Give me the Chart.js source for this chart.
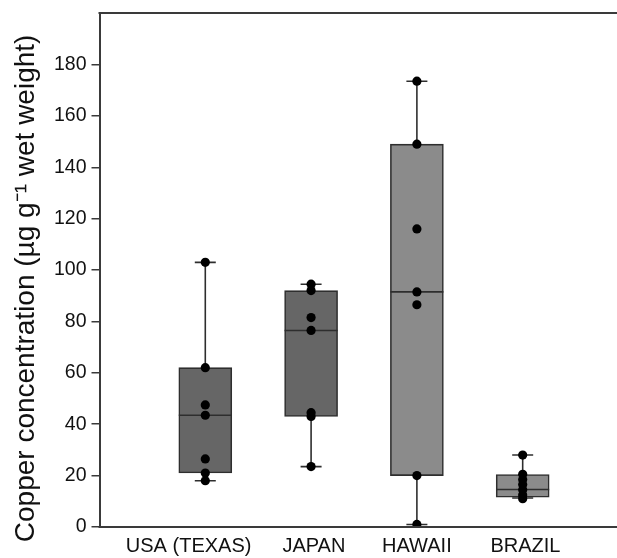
<!DOCTYPE html>
<html>
<head>
<meta charset="utf-8">
<script src="https://cdn.jsdelivr.net/npm/chart.js@4/dist/chart.umd.min.js"></script>
<style>
  html, body { margin: 0; padding: 0; background: #ffffff; overflow: hidden; width: 617px; height: 558px; }
  #wrap { position: relative; width: 646px; height: 573.5px; margin-top: -15.5px; }
</style>
</head>
<body>
<div id="wrap"><canvas id="c"></canvas></div>
<script>
// ---- data ----
const categories = ['USA (TEXAS)', 'JAPAN', 'HAWAII', 'BRAZIL'];
const categoryPositions = [1, 2, 3, 4];

const usaValues    = [103, 62, 47.5, 43.5, 26.5, 21, 18];
const japanValues  = [94.5, 92, 81.5, 76.5, 44.5, 43, 23.5];
const hawaiiValues = [173.5, 149, 116, 91.5, 86.5, 20, 1];
const brazilValues = [28, 20.5, 18.5, 16.5, 14.5, 12.5, 11];

const mins    = [18, 23.5, 1, 11.3];
const q1s     = [21, 43, 20, 11.6];
const medians = [43.5, 76.5, 91.5, 14.6];
const q3s     = [62, 92, 149, 20.4];
const maxs    = [103, 94.5, 173.5, 28];

const yTickValues = [0, 20, 40, 60, 80, 100, 120, 140, 160, 180];
const yTitle = 'Copper concentration (\u00B5g g\u207B\u00B9 wet weight)';

// ---- styling ----
const boxFills = ['#666666', '#666666', '#8b8b8b', '#8b8b8b'];
const ink = '#2e2e2e';
const FONT = '"Liberation Sans", Arial, Helvetica, sans-serif';

// ---- build datasets from the arrays ----
const allValues = [usaValues, japanValues, hawaiiValues, brazilValues];
const pointData = [];
allValues.forEach((vals, i) => vals.forEach(v => pointData.push({ x: categoryPositions[i], y: v })));

const boxData = categoryPositions.map((x, i) => ({ x: x, y: [q1s[i], q3s[i]] }));
const medianData = categoryPositions.map((x, i) => ({ x: x, y: medians[i] }));
const capData = [];
const whiskerData = [];
categoryPositions.forEach((x, i) => {
  capData.push({ x: x, y: mins[i] }, { x: x, y: maxs[i] });
  whiskerData.push({ x: x, y: mins[i] }, { x: x, y: maxs[i] }, { x: x, y: null });
});

// display labels (label centres are slightly off the box centres in the reference)
const displayLabels = ['USA (TEXAS)      ', ' JAPAN', 'HAWAII', ' BRAZIL'];

const frame = {
  id: 'frame',
  afterDraw(chart) {
    const a = chart.chartArea, ctx = chart.ctx;
    const yb = chart.scales.y.getPixelForValue(0);
    ctx.save();
    ctx.strokeStyle = '#3a3a3a';
    ctx.lineWidth = 2;
    ctx.beginPath();
    ctx.moveTo(a.left - 1, a.top);
    ctx.lineTo(chart.width, a.top);
    ctx.moveTo(a.left - 1, yb);
    ctx.lineTo(chart.width, yb);
    ctx.stroke();
    ctx.restore();
  }
};

new Chart(document.getElementById('c'), {
  type: 'bar',
  data: {
    datasets: [
      { type: 'scatter', data: pointData, backgroundColor: '#000', borderColor: '#000',
        pointRadius: 4.6, pointBorderWidth: 0, order: 0 },
      { type: 'scatter', data: medianData, pointStyle: 'line', pointRadius: 26.5,
        borderColor: ink, pointBorderWidth: 1.6, order: 1 },
      { type: 'scatter', data: capData, pointStyle: 'line', pointRadius: 10.5,
        borderColor: ink, pointBorderWidth: 1.6, order: 2 },
      { type: 'bar', data: boxData, backgroundColor: boxFills, borderColor: ink,
        borderWidth: 1.6, borderSkipped: false, barThickness: 53, order: 3 },
      { type: 'line', data: whiskerData, borderColor: ink, borderWidth: 1.6,
        pointRadius: 0, spanGaps: false, fill: false, order: 4 }
    ]
  },
  options: {
    responsive: true,
    maintainAspectRatio: false,
    animation: false,
    events: [],
    layout: { padding: { top: 0, right: 0, bottom: 0, left: 0 } },
    plugins: { legend: { display: false }, tooltip: { enabled: false } },
    scales: {
      x: {
        type: 'linear',
        offset: false,
        min: 0,
        max: 4.9,
        grid: { display: false, drawTicks: false, offset: false },
        border: { display: false },
        afterBuildTicks: s => { s.ticks = categoryPositions.map(v => ({ value: v })); },
        afterFit: s => { s.height = 31.5; },
        ticks: {
          autoSkip: false,
          maxRotation: 0,
          padding: 7,
          color: '#111',
          font: { family: FONT, size: 20 },
          callback: (v) => displayLabels[categoryPositions.indexOf(v)] || ''
        }
      },
      y: {
        type: 'linear',
        min: 0,
        max: 200,
        afterBuildTicks: s => { s.ticks = yTickValues.map(v => ({ value: v })); },
        afterFit: s => { s.width = 99.5; },
        grid: { drawOnChartArea: false, drawTicks: true, tickLength: 8, color: '#3a3a3a', lineWidth: 1.5 },
        border: { display: true, color: '#3a3a3a', width: 2 },
        ticks: {
          padding: 5,
          color: '#111',
          font: { family: FONT, size: 19.5 },
          callback: v => String(v)
        },
        title: {
          display: true,
          text: yTitle + '    \u2009',
          color: '#111',
          font: { family: FONT, size: 28 },
          padding: { top: 9, bottom: 0 }
        }
      }
    }
  },
  plugins: [frame]
});
</script>
</body>
</html>
